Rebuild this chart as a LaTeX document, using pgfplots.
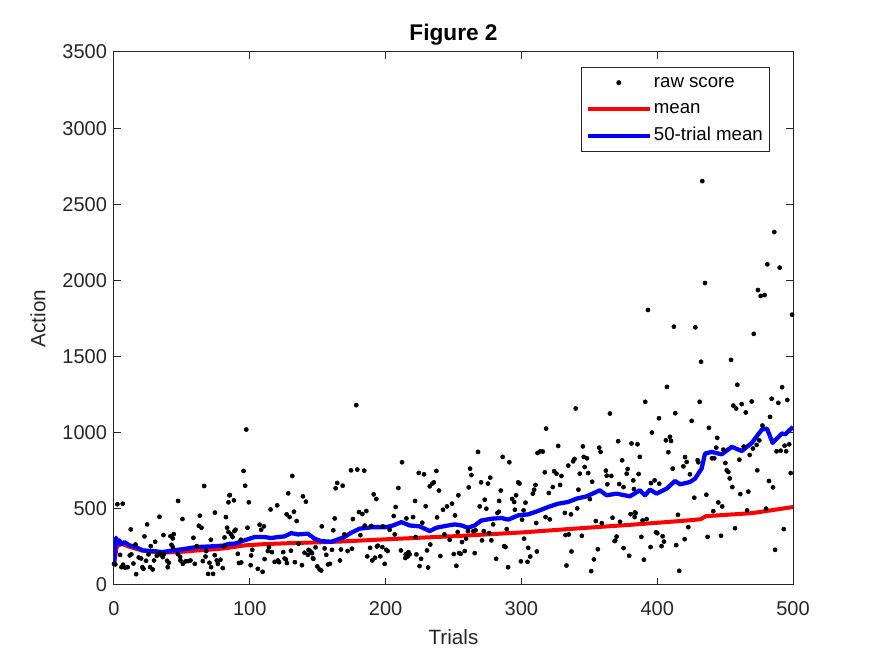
\documentclass[border=0pt]{standalone}
\usepackage{fontspec}
\setmainfont{Liberation Sans}
\usepackage{pgfplots}
\usepackage{pgfplotstable}
\pgfplotsset{compat=1.18}
\definecolor{axgray}{RGB}{38,38,38}
\definecolor{mblue}{RGB}{0,0,255}
\definecolor{mred}{RGB}{255,0,0}
\pgfplotsset{
  markleg/.style={legend image code/.code={\draw[mark repeat=2,mark phase=2,##1] plot coordinates {(0pt,0pt) (23.25pt,0pt) (46.5pt,0pt)};}},
  lineleg/.style={legend image code/.code={\draw[##1] (0pt,0pt) -- (46.5pt,0pt);}},
}

\pgfplotstableread{
t v
0 139
1 135
2.5 530
6.4 534
12.3 365
24.4 398
33.5 448
47.2 552
50.4 433
66.4 650
63.2 455
74.3 475
82.4 446
84.3 543
85 589
62.5 389
64.4 376
83.3 376
22.4 319
36.4 328
41.6 321
43.3 306
44 334
58.5 310
71.3 297
81.4 312
4.5 198
5.5 117
6.7 133
8.2 113
10.1 117
11.6 194
12.8 201
14.3 141
16.3 71
15.8 266
18.2 181
20 174
20.9 117
21.7 106
23.6 159
25.4 201
27.1 255
26.6 117
28.5 102
29.5 161
30.3 284
31.5 192
33 209
34.7 198
35.9 183
36.7 203
39.1 159
39.6 117
40.3 146
42.3 264
43.3 249
47 203
48.7 185
48.9 161
50.7 139
52.6 155
54.4 157
56.3 161
59.5 139
61 255
65.4 157
67.4 187
67.9 223
69.3 73
70.3 146
71.5 117
73 73
74.2 196
75.7 161
76.5 139
78.4 166
80.1 111
81.1 253
84.3 348
97.4 1021
95.4 749
96.6 652
85.3 591
88.3 556
99.3 543
131.3 716
128.3 602
139.1 582
141.3 547
115.3 496
120.2 523
127.1 464
129.3 446
132.5 481
134.5 420
162.5 437
153 385
161.5 359
163.2 635
164.4 670
168.4 652
107.2 396
110.4 385
108.4 363
98.3 376
88.7 354
89.5 363
86.3 332
87.3 315
93.4 297
101.8 231
91.2 205
92 144
93.7 148
101 194
100.6 130
105.9 106
109.4 87
110.9 170
113.3 223
114.1 249
116.3 216
118.3 152
120.7 161
121.5 150
124.6 216
125.6 174
127.3 144
126.6 168
130.3 225
133.2 150
138.4 130
135.9 271
142.8 198
143.3 231
140.3 212
145.8 209
144.8 220
146.8 172
146.5 176
148.4 247
149.7 122
151.4 102
152.6 95
155.1 240
156.3 198
157.6 135
159 139
160.5 231
166.4 161
178.4 1181
174.5 753
179.2 758
184.3 751
212.1 806
224.4 736
228.3 727
237.4 749
209.4 637
232.5 648
234.5 666
235.5 674
239.3 620
191.2 595
193.2 565
221.7 552
229.5 517
253.6 589
207.4 512
242.3 494
245.2 516
248.9 534
180.4 479
182.9 466
185.8 486
175.9 433
206 453
215.3 437
220.2 446
227 409
237.9 444
251.1 457
169.6 332
181.4 327
184.6 390
189.5 388
198 385
203 363
206.7 332
222.1 315
232.9 266
243.3 332
247.2 297
167.1 233
172 223
175.2 238
186.5 188
188.6 244
190.2 161
192.2 179
193.6 253
194.3 258
196.1 188
199.3 139
197.6 249
200.5 231
201.5 223
211.3 227
214.8 201
216.2 187
216.8 216
217.7 201
214.5 177
222.7 201
225 124
231.3 115
226.1 172
230.5 227
240.3 190
250.2 203
252.1 126
254.1 209
268.1 874
286.2 841
291.1 806
262.2 764
263.2 722
318.2 1027
327.1 913
311.9 867
313.9 878
315.8 876
334.5 784
317.2 740
324.1 747
325.8 731
329.5 716
270.3 674
275.4 666
277.1 705
261.2 641
297.6 674
298.6 666
310.4 657
309.4 626
308.4 600
320.2 604
323.1 643
328.5 657
284.8 620
296.1 589
273 560
283.6 552
303 541
293.2 565
294.7 545
269.3 516
274.2 501
295.2 494
301.6 490
282.4 473
283.3 481
332 473
336.5 464
317.8 446
320.9 431
300.5 429
310.9 407
279.2 398
289.2 367
253.1 348
256.3 282
259.3 304
260.7 354
264.6 354
266.2 359
272.3 354
276.2 341
271 293
277.9 293
332.5 328
334.9 332
302 304
287.3 255
288.3 249
305 244
306.5 187
311.4 220
255.3 205
258.3 223
265.6 209
281.4 172
299.6 155
304.5 152
290.2 117
336.9 220
333.2 128
407.2 1301
391.2 1203
340 1159
365.2 1126
413.3 1128
401.3 1095
396.1 1001
409.4 973
406.4 950
410.2 946
371.3 944
381.1 929
385.5 924
345.3 910
357.3 902
358.3 874
408.2 872
339.1 828
338.1 812
345.9 841
348.3 832
374.2 819
387.2 841
346.6 775
362.2 751
349.2 735
343 731
362.8 718
366.2 716
378.2 762
377.5 731
386.3 729
352.1 678
411.4 764
419.3 779
421.7 808
420.5 840
382.4 687
398.1 687
395.4 669
401.5 665
372 663
375.2 643
382.9 630
342 626
363.3 661
341.1 503
350.4 564
380.4 465
383.5 476
384.1 472
383.4 446
367.1 442
354.8 420
359.2 406
372.6 415
389.2 424
392.2 433
415.3 461
422.9 380
344.5 323
370.1 318
369.1 292
368.6 288
388.3 316
399.1 346
400.1 340
404 320
405 285
403.2 255
414 262
420.2 301
356.3 235
375.2 242
395.1 249
379.4 192
353.4 168
390.2 166
351.4 91
416.2 93
459 1315
492 1299
431.3 1203
456.1 1178
458.1 1159
462.2 1188
465.2 1133
469.6 1205
484.3 1223
489.2 1196
495.8 1215
425.4 1078
483.1 1104
477.5 1047
438.1 1032
444.2 966
487.9 878
490.9 882
495 878
497.2 924
493.8 915
443.5 902
440.3 832
442 832
448.7 889
460.5 823
468.1 854
470.5 896
473.2 920
475.2 950
463.7 909
429.8 819
430.3 806
424.1 727
450.2 801
451.2 753
452.4 742
453.4 700
455.3 643
461.2 597
467.1 613
473.7 753
482.3 683
485.3 641
498.3 735
427.3 573
436.2 593
445 542
447.9 516
441.3 485
466.2 490
480.2 501
457.3 373
493.2 367
437.1 316
447 323
486.8 231
433.2 2652
486.2 2318
481.1 2106
490.2 2084
435.2 1983
474.2 1937
476.2 1898
479.1 1904
393.2 1806
499.3 1775
412.3 1696
428.1 1692
471.1 1649
432.3 1466
454.4 1478
}\rawdata

\pgfplotstableread{
t v
0 139
2 250
5 275
10 255
20 228
30 216
40 214
50 218
60 226
70 232
81 240
96 260
110 268
130 275
150 280
166 285
200 300
254 322
300 345
339 370
380 395
424 425
432 432
436 452
470 472
500 512
}\meandata

\pgfplotstableread{
t v
0 139
1.5 310
2.8 271
4 293
5.2 266
7.7 282
11.4 260
16.3 249
21.2 227
28.5 223
35.9 216
43.3 227
50.7 235
60.5 249
70.3 253
80.1 258
85 271
88.7 271
96.1 293
103.5 315
110.9 315
115.7 308
120.7 315
125.6 319
130.5 341
135.4 332
142.8 337
147.7 304
152.6 288
160 284
165 300
169 312
173.5 337
180.9 370
190.7 380
200.5 380
205.5 391
211.6 413
217.7 391
225.1 385
232.5 354
237.4 376
244.8 389
250.9 398
255.8 391
260.8 376
265.6 391
270.6 424
278 435
285.3 440
290.2 429
297.6 457
305 464
312.3 486
319.7 512
327.1 534
334.4 545
340.6 567
348 582
357.8 622
362.7 589
370.1 600
379.9 582
387.2 622
391 589
394.7 626
399.6 600
407 633
413.1 683
416.8 661
424.1 676
427.8 698
432.7 764
435.2 863
440.1 874
447.5 858
454.9 907
462.3 880
469.7 933
477.1 1021
480.8 1027
485 933
488.1 962
491.8 995
494.3 990
500 1038
}\movdata

\begin{document}
\begin{tikzpicture}[x=1pt,y=1pt]
\path (-85.5,-53.25) rectangle (570.75,438.75);
\begin{axis}[
  at={(0,0)}, anchor=south west,
  scale only axis, width=509.25pt, height=399.75pt,
  xmin=0, xmax=500, ymin=0, ymax=3500,
  xtick={0,100,...,500}, ytick={0,500,...,3500},
  xtick pos=both, ytick pos=both,
  xticklabel pos=bottom, yticklabel pos=left,
  tick align=inside,
  major tick length=5.25pt,
  axis line style={axgray, line width=0.75pt},
  every tick/.style={axgray, line width=0.75pt},
  /pgf/number format/assume math mode=true,
  scaled ticks=false,
  /pgf/number format/set thousands separator={},
  tick label style={font=\fontsize{15}{18}\selectfont, text=axgray},
  xticklabel style={yshift=-9pt},
  yticklabel style={xshift=-1.75pt},
  label style={font=\fontsize{15.5}{18}\selectfont, text=axgray},
  xlabel={Trials},
  ylabel={Action},
  xlabel style={at={(axis description cs:0.5,0)}, anchor=base, yshift=-44.5pt},
  ylabel style={at={(axis description cs:-0.112,0.5)}, anchor=center},
  title={Figure 2},
  title style={at={(axis description cs:0.5,1)}, anchor=base, yshift=2.25pt,
    font=\fontsize{17}{20}\bfseries\selectfont, text=black},
  legend style={at={(0.966,0.972)}, anchor=north east,
    draw=axgray, line width=0.6pt, fill=white,
    font=\fontsize{14}{17}\selectfont, text=black,
    inner xsep=3.5pt, inner ysep=3.5pt, row sep=4pt,
    nodes={inner sep=1.5pt, text height=10pt, text depth=3pt}},
  legend cell align=left,
]
\addplot[only marks, mark=*, mark size=1.55pt, black, markleg]
  table[x=t,y=v]{\rawdata};
\addlegendentry{raw score}
\addplot[mred, line width=3pt, no marks, lineleg]
  table[x=t,y=v]{\meandata};
\addlegendentry{mean}
\addplot[mblue, line width=3.2pt, no marks, line join=round, lineleg]
  table[x=t,y=v]{\movdata};
\addlegendentry{50-trial mean}
\end{axis}
\end{tikzpicture}
\end{document}
